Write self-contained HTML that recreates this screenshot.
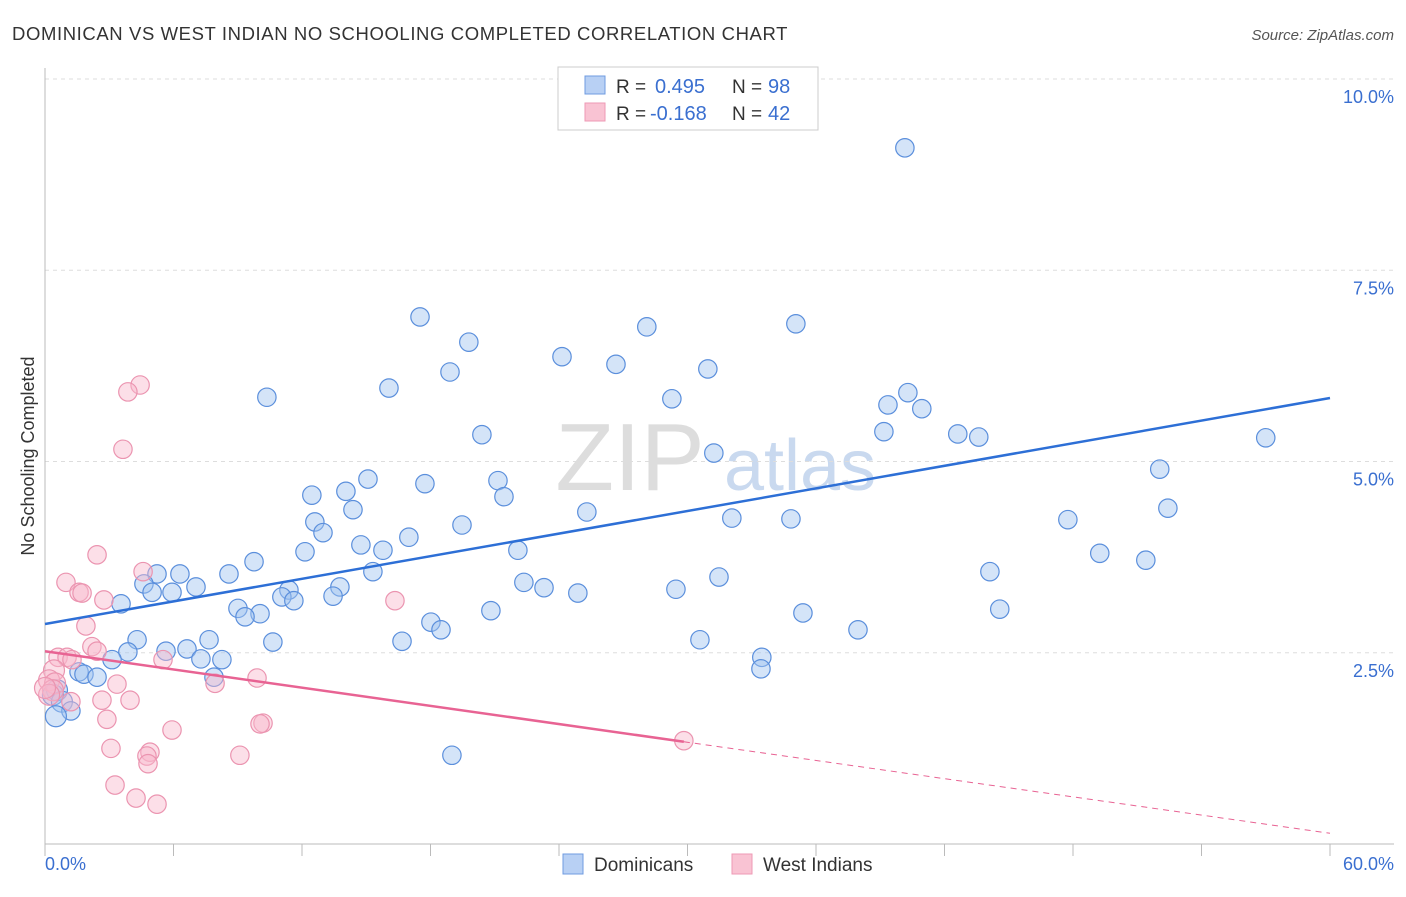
<!DOCTYPE html>
<html><head><meta charset="utf-8">
<style>
body{margin:0;background:#fff;font-family:"Liberation Sans",sans-serif;}
svg text{font-family:"Liberation Sans",sans-serif;}
</style></head>
<body>
<svg id="chart" width="1406" height="892" xmlns="http://www.w3.org/2000/svg">
<text x="12" y="40" font-size="18.5" letter-spacing="0.6" fill="#333">DOMINICAN VS WEST INDIAN NO SCHOOLING COMPLETED CORRELATION CHART</text>
<text x="1394" y="40" font-size="15" fill="#555" text-anchor="end" font-style="italic">Source: ZipAtlas.com</text>
<text x="630" y="490" font-size="96" fill="#ddd" font-family="Liberation Serif" text-anchor="middle">ZIP</text>
<text x="800" y="490" font-size="72" fill="#c9d9ef" text-anchor="middle">atlas</text>
<g id="grid"></g>
<g id="marks"></g>
<text transform="translate(34,456) rotate(-90)" font-size="18" fill="#333" text-anchor="middle">No Schooling Completed</text>
<text x="45" y="870" font-size="18" fill="#3a6fd0">0.0%</text>
<text x="1394" y="870" font-size="18" fill="#3a6fd0" text-anchor="end">60.0%</text>
<g>
<rect x="558" y="67" width="260" height="63" fill="#fff" stroke="#ccc"/>
<rect x="585" y="76" width="20" height="18" fill="#b8d0f4" stroke="#6f9be0"/>
<rect x="585" y="103" width="20" height="18" fill="#f9c3d3" stroke="#ee9ab4"/>
<text x="616" y="93" font-size="19" fill="#333">R =</text>
<text x="655" y="93" font-size="20" fill="#3a6fd0">0.495</text>
<text x="732" y="93" font-size="19" fill="#333">N =</text>
<text x="768" y="93" font-size="20" fill="#3a6fd0">98</text>
<text x="616" y="120" font-size="19" fill="#333">R =</text>
<text x="650" y="120" font-size="20" fill="#3a6fd0">-0.168</text>
<text x="732" y="120" font-size="19" fill="#333">N =</text>
<text x="768" y="120" font-size="20" fill="#3a6fd0">42</text>
</g>
<g>
<rect x="563" y="854" width="20" height="20" fill="#b8d0f4" stroke="#6f9be0"/>
<text x="594" y="871" font-size="19" fill="#333">Dominicans</text>
<rect x="732" y="854" width="20" height="20" fill="#f9c3d3" stroke="#ee9ab4"/>
<text x="763" y="871" font-size="19" fill="#333">West Indians</text>
</g>
</svg>
<script>
const yTicks=[2.5,5.0,7.5,10.0];
const yTickLabels=["2.5%","5.0%","7.5%","10.0%"];
const blueX=[40.15,17.51,28.1,35.06,19.79,24.14,26.66,18.91,30.95,16.06,10.36,29.27,40.29,39.36,40.94,39.17,42.62,43.6,57.0,20.4,31.23,52.05,15.08,17.74,21.15,14.05,12.46,21.43,14.38,25.3,52.43,12.6,32.07,34.83,47.76,19.47,12.98,16.99,14.75,15.78,12.14,22.08,49.25,51.4,9.76,15.31,44.12,8.59,5.23,6.3,4.62,7.05,22.36,31.47,13.77,5.0,5.93,11.39,23.3,29.46,13.45,11.06,24.88,11.62,3.55,9.01,10.04,9.34,44.58,20.82,35.39,18.02,18.49,37.96,4.3,7.66,10.64,16.67,30.58,5.65,3.87,6.63,3.13,7.28,8.26,33.47,33.43,1.59,1.82,2.43,7.89,0.56,0.37,0.79,1.21,0.51,19.0];
const blueY=[9.10,6.89,6.76,6.80,6.56,6.37,6.27,6.17,6.21,5.96,5.84,5.82,5.90,5.74,5.69,5.39,5.36,5.32,5.31,5.35,5.11,4.90,4.77,4.71,4.75,4.61,4.56,4.54,4.37,4.34,4.39,4.21,4.26,4.25,4.24,4.17,4.07,4.01,3.91,3.84,3.82,3.84,3.80,3.71,3.69,3.56,3.56,3.53,3.53,3.53,3.40,3.36,3.42,3.49,3.36,3.29,3.29,3.32,3.35,3.33,3.24,3.23,3.28,3.18,3.14,3.08,3.01,2.97,3.07,3.05,3.02,2.90,2.80,2.80,2.67,2.67,2.64,2.65,2.67,2.52,2.51,2.55,2.41,2.42,2.41,2.44,2.29,2.25,2.22,2.18,2.18,2.01,1.95,1.86,1.74,1.67,1.16];
const pinkX=[4.44,3.87,3.64,2.43,0.98,1.59,1.73,4.58,2.75,16.34,1.91,2.19,2.43,0.61,1.03,1.26,5.51,0.42,0.19,0.47,3.36,7.94,9.9,0.37,0.19,1.21,2.66,3.97,2.89,10.18,10.04,5.93,3.08,4.9,4.76,9.1,29.83,4.81,3.27,4.25,5.23,0.0];
const pinkY=[6.0,5.91,5.16,3.78,3.42,3.29,3.28,3.56,3.19,3.18,2.85,2.58,2.52,2.44,2.44,2.41,2.41,2.27,2.14,2.10,2.09,2.10,2.17,2.01,1.95,1.86,1.88,1.88,1.63,1.58,1.57,1.49,1.25,1.20,1.15,1.16,1.35,1.05,0.77,0.60,0.52,2.04];
const blueTrend=[2.876,5.83];
const pinkTrend=[2.52,0.14];
const pinkSolidEnd=29.83;

const X=v=>45+v*(1285/60);
const Y=v=>844-v*76.5;
const NS="http://www.w3.org/2000/svg";
function mk(tag,attrs,parent){const e=document.createElementNS(NS,tag);for(const k in attrs)e.setAttribute(k,attrs[k]);parent.appendChild(e);return e;}
const grid=document.getElementById('grid'),marks=document.getElementById('marks');
yTicks.forEach((t,i)=>{
  const l=mk('line',{x1:45,x2:1394,y1:Y(t),y2:Y(t),stroke:'#ddd','stroke-dasharray':'4,4'},grid);
  
  
  const tx=mk('text',{x:1394,y:Y(t)+24,'font-size':18,fill:'#3a6fd0','text-anchor':'end'},grid);
  tx.textContent=yTickLabels[i];
  
  
});
const ax=mk('line',{x1:45,x2:1394,y1:844,y2:844,stroke:'#bbb'},grid);


const ay=mk('line',{x1:45,x2:45,y1:68,y2:844,stroke:'#bbb'},grid);


for(let i=0;i<=10;i++){
  const t=mk('line',{x1:X(i*6),x2:X(i*6),y1:844,y2:856,stroke:'#bbb'},grid);
  
  
}
blueX.forEach((x,i)=>{
  const r=(x<1&&blueY[i]<2.1)?10.5:9.2;
  const c=mk('circle',{cx:X(x),cy:Y(blueY[i]),r:r,fill:'rgba(160,195,240,0.45)',stroke:'#5b8fdc','stroke-width':1.2},marks);
  
  
});
pinkX.forEach((x,i)=>{
  const r=x<0.5?10.5:9.2;
  const c=mk('circle',{cx:X(x),cy:Y(pinkY[i]),r:r,fill:'rgba(248,185,205,0.45)',stroke:'#eb94b0','stroke-width':1.2},marks);
  
  
});
const bl=mk('line',{x1:X(0),y1:Y(blueTrend[0]),x2:X(60),y2:Y(blueTrend[1]),stroke:'#2d6fd6','stroke-width':2.5},marks);


const pm=pinkTrend[0]+(pinkTrend[1]-pinkTrend[0])*pinkSolidEnd/60;
const pl=mk('line',{x1:X(0),y1:Y(pinkTrend[0]),x2:X(pinkSolidEnd),y2:Y(pm),stroke:'#e86393','stroke-width':2.5},marks);


const pd=mk('line',{x1:X(pinkSolidEnd),y1:Y(pm),x2:X(60),y2:Y(pinkTrend[1]),stroke:'#e86393','stroke-width':1,'stroke-dasharray':'6,5'},marks);


</script>
</body></html>
